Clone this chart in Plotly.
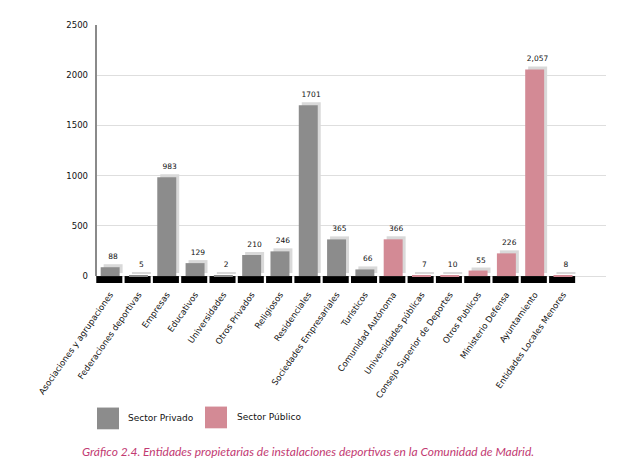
import plotly.graph_objects as go

categories = [
    "Asociaciones y agrupaciones", "Federaciones deportivas", "Empresas", "Educativos",
    "Universidades", "Otros Privados", "Religiosos", "Residenciales",
    "Sociedades Empresariales", "Turísticos", "Comunidad Autónoma",
    "Universidades públicas", "Consejo Superior de Deportes", "Otros Publicos",
    "Ministerio Defensa", "Ayuntamiento", "Entidades Locales Menores",
]
values = [88, 5, 983, 129, 2, 210, 246, 1701, 365, 66, 366, 7, 10, 55, 226, 2057, 8]
labels = ["88", "5", "983", "129", "2", "210", "246", "1701", "365", "66",
          "366", "7", "10", "55", "226", "2,057", "8"]
sector = ["Privado"] * 10 + ["Público"] * 7

GREY = "#8c8c8c"
PINK = "#d38a95"
SHADOW = "#d9d9d9"
colors = [GREY if s == "Privado" else PINK for s in sector]

# the page body adds an 8px margin, so the figure is drawn 8px smaller
OFF = 8
W, H = 620 - OFF, 462 - OFF
L, R, T, B = 96 - OFF, 14, 22 - OFF, 179
pw, ph = W - L - R, H - T - B

# page pixel -> paper coordinate
def px(x):
    return (x - OFF - L) / pw

def py(y):
    return (H - B - (y - OFF)) / ph

x = list(range(len(categories)))
band = 69

fig = go.Figure()
# black base band under each category
fig.add_trace(go.Bar(x=x, y=[band] * len(x), base=-band, width=0.92, offset=-0.49,
                     marker=dict(color="black", line=dict(width=0)), hoverinfo="skip"))
# shadow bars, shifted up and right
fig.add_trace(go.Bar(x=x, y=values, base=30, width=0.67, offset=-0.23,
                     marker=dict(color=SHADOW, line=dict(width=0)),
                     text=labels, textposition="outside", cliponaxis=False,
                     constraintext="none",
                     textfont=dict(family="DejaVu Sans", size=7.5, color="#111")))
# main bars
fig.add_trace(go.Bar(x=x, y=values, width=0.67, offset=-0.335,
                     marker=dict(color=colors, line=dict(width=0))))

shapes = [
    dict(type="line", xref="paper", yref="y", x0=0, x1=0, y0=0, y1=2500,
         line=dict(color="#8a8a8a", width=2)),
    dict(type="rect", xref="paper", yref="paper", x0=px(97), x1=px(119), y0=py(431), y1=py(409),
         fillcolor=GREY, line=dict(width=0)),
    dict(type="rect", xref="paper", yref="paper", x0=px(205), x1=px(227), y0=py(430), y1=py(408),
         fillcolor=PINK, line=dict(width=0)),
]
annotations = [
    dict(text="Sector Privado", xref="paper", yref="paper", x=px(126), y=py(420),
         xanchor="left", yanchor="middle", showarrow=False,
         font=dict(family="DejaVu Sans", size=9, color="#111")),
    dict(text="Sector Público", xref="paper", yref="paper", x=px(235), y=py(419),
         xanchor="left", yanchor="middle", showarrow=False,
         font=dict(family="DejaVu Sans", size=9, color="#111")),
    dict(text="<i>Gráfico 2.4. Entidades propietarias de instalaciones deportivas en la Comunidad de Madrid.</i>",
         xref="paper", yref="paper", x=px(308), y=py(453), xanchor="center", yanchor="middle",
         showarrow=False, font=dict(family="Lato", size=12, color="#c23a72")),
]

fig.update_layout(
    width=W, height=H,
    margin=dict(l=L, r=R, t=T, b=B),
    barmode="overlay",
    showlegend=False,
    plot_bgcolor="white", paper_bgcolor="white",
    shapes=shapes, annotations=annotations,
    xaxis=dict(range=[-0.5, 17.52], tickvals=x, ticktext=categories, tickangle=-55,
               showgrid=False, zeroline=False, ticks="", ticklabelstandoff=4,
               tickfont=dict(family="DejaVu Sans", size=8.5, color="#111")),
    yaxis=dict(range=[-band, 2500], tickvals=[0, 500, 1000, 1500, 2000, 2500],
               showgrid=True, gridcolor="#dedede", gridwidth=1, zeroline=False,
               ticks="", ticklabelstandoff=7,
               tickfont=dict(family="DejaVu Sans", size=8.5, color="#111")),
)

fig.write_html("out.html")
